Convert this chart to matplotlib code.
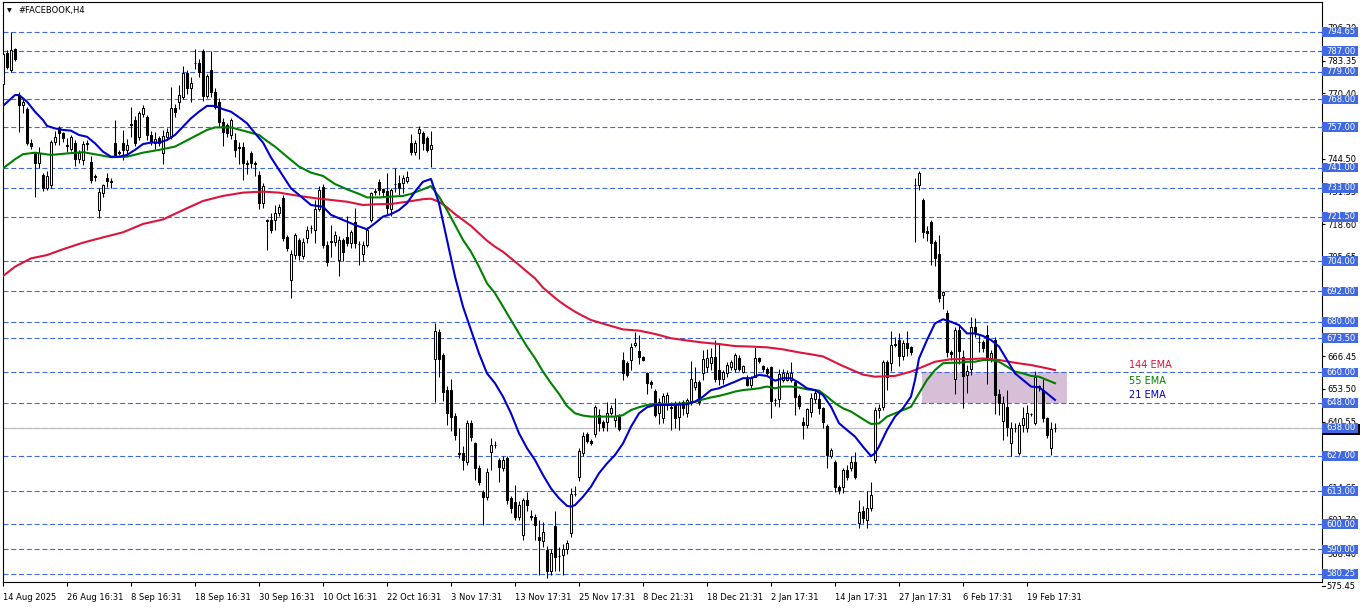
import numpy as np
import matplotlib
matplotlib.use('Agg')
import matplotlib.pyplot as plt
import matplotlib.transforms as mtransforms
from matplotlib.patches import Rectangle

# H4 candles (price units)
opens = [774.0, 786.2, 779.6, 787.8, 769.7, 765.8, 764.1, 750.6, 746.6, 742.7,
         738.1, 732.8, 734.1, 751.3, 756.5, 754.6, 749.8, 748.2, 750.6, 744.3,
         744.0, 750.2, 743.4, 737.5, 724.2, 731.1, 736.8, 735.7, 750.6, 747.2,
         750.6, 748.0, 758.4, 759.8, 753.2, 762.2, 761.2, 753.9, 750.9, 752.6,
         746.6, 753.2, 753.2, 764.5, 767.1, 769.1, 778.3, 772.4, 782.4, 782.3,
         787.3, 769.3, 779.6, 771.0, 767.1, 759.2, 757.9, 753.9, 751.9, 749.2,
         749.0, 743.0, 746.9, 742.8, 738.1, 727.1, 719.7, 720.3, 720.3, 722.9,
         729.1, 713.7, 696.5, 706.4, 712.4, 706.0, 713.0, 717.0, 716.3, 724.5,
         733.5, 710.4, 712.0, 711.7, 704.4, 712.4, 713.7, 711.0, 719.6, 710.9,
         707.0, 710.4, 720.3, 731.4, 735.4, 732.5, 731.7, 724.5, 734.4, 734.8,
         734.8, 735.7, 750.9, 747.0, 754.8, 754.8, 752.6, 748.2, 665.2, 676.1,
         666.9, 653.0, 653.0, 642.7, 628.0, 628.0, 624.7, 640.1, 631.9, 622.0,
         612.8, 610.8, 628.6, 631.2, 625.3, 622.0, 626.0, 610.2, 608.9, 602.9,
         595.7, 609.5, 603.0, 602.9, 595.0, 593.4, 589.8, 581.6, 599.2, 587.4,
         587.8, 590.0, 596.3, 611.9, 618.5, 628.2, 635.5, 633.0, 635.5, 643.1,
         640.4, 640.5, 644.1, 641.2, 642.8, 664.9, 663.6, 664.9, 670.8, 668.5,
         666.0, 659.6, 656.3, 652.8, 643.8, 641.8, 647.8, 646.2, 647.8, 642.2,
         648.4, 643.8, 648.8, 654.4, 656.3, 659.9, 662.3, 663.8, 666.2, 661.0,
         657.3, 659.6, 662.3, 661.2, 665.6, 660.3, 657.7, 655.0, 658.3, 665.6,
         662.5, 661.2, 662.0, 649.2, 649.4, 657.0, 657.0, 657.0, 656.3, 650.7,
         640.5, 639.2, 644.5, 649.3, 649.3, 645.8, 638.8, 626.9, 624.7, 614.8,
         614.8, 621.4, 622.0, 624.7, 600.3, 605.3, 601.6, 606.2, 625.3, 645.1,
         646.4, 664.2, 663.6, 671.1, 672.8, 666.5, 671.8, 669.9, 734.0, 734.1,
         728.0, 716.1, 719.6, 711.7, 706.8, 690.6, 683.4, 668.2, 657.3, 676.8,
         666.2, 659.0, 661.2, 678.1, 672.2, 672.2, 674.8, 665.5, 672.8, 651.4,
         640.9, 646.4, 632.2, 637.9, 628.0, 639.2, 637.9, 643.4, 639.9, 654.5,
         653.0, 641.8, 630.0, 637.9]
highs = [787.0, 787.5, 794.8, 788.5, 771.0, 768.6, 765.0, 752.5, 747.0, 749.0,
         739.0, 739.5, 752.0, 755.5, 757.6, 755.0, 752.8, 754.0, 752.0, 748.0,
         751.5, 752.0, 745.5, 738.5, 733.0, 734.5, 738.9, 737.0, 759.8, 748.0,
         756.0, 752.5, 765.0, 761.5, 763.5, 765.7, 762.0, 755.5, 755.0, 753.5,
         756.0, 756.5, 773.0, 766.0, 773.5, 781.0, 779.5, 777.0, 787.8, 784.0,
         788.0, 778.0, 787.0, 772.5, 768.5, 760.5, 758.5, 760.5, 754.6, 751.0,
         751.0, 744.0, 747.5, 743.7, 739.5, 735.0, 720.8, 722.9, 726.2, 726.5,
         730.0, 714.5, 708.5, 715.0, 713.0, 713.0, 717.7, 718.3, 728.0, 733.6,
         734.4, 712.0, 718.3, 716.0, 714.0, 713.0, 722.0, 716.5, 725.0, 712.0,
         712.0, 717.5, 731.5, 732.8, 736.5, 733.0, 739.0, 733.0, 741.0, 738.2,
         738.0, 739.5, 754.2, 752.0, 757.3, 755.5, 753.5, 755.5, 679.7, 677.0,
         667.5, 654.5, 657.5, 644.0, 637.8, 631.0, 641.0, 641.0, 632.5, 623.5,
         613.5, 622.0, 633.9, 633.0, 626.0, 627.0, 627.0, 611.0, 615.6, 609.0,
         610.5, 612.8, 605.5, 604.0, 601.6, 601.0, 591.5, 590.0, 605.0, 591.0,
         592.0, 593.6, 614.2, 615.0, 630.0, 636.3, 636.5, 633.5, 647.0, 645.5,
         641.0, 648.1, 647.2, 650.0, 643.5, 668.0, 664.5, 671.5, 676.0, 674.9,
         666.5, 660.0, 657.0, 653.5, 650.0, 652.0, 652.2, 648.4, 648.5, 648.5,
         649.0, 650.0, 664.4, 662.0, 657.0, 669.0, 669.2, 669.6, 673.0, 671.3,
         661.0, 664.0, 665.0, 667.5, 667.0, 663.0, 659.0, 658.5, 670.0, 666.0,
         663.0, 662.0, 662.5, 650.0, 661.5, 661.5, 661.0, 664.2, 657.0, 651.5,
         642.5, 646.0, 652.0, 653.0, 652.0, 646.5, 639.5, 630.0, 625.5, 615.5,
         622.0, 623.5, 627.0, 628.5, 609.5, 607.0, 613.2, 616.5, 646.5, 647.5,
         665.0, 664.8, 676.4, 674.1, 675.5, 673.0, 676.3, 670.5, 736.8, 739.5,
         729.0, 718.0, 720.3, 712.5, 714.2, 692.0, 684.6, 669.0, 678.0, 678.5,
         669.0, 663.0, 682.0, 681.7, 674.8, 673.0, 678.8, 669.0, 674.0, 653.5,
         650.8, 653.2, 640.5, 639.8, 640.5, 646.4, 647.0, 644.0, 660.5, 655.0,
         657.5, 642.5, 640.5, 639.8]
lows = [771.7, 780.0, 779.0, 783.0, 755.2, 762.5, 750.0, 748.5, 729.5, 741.0,
        731.7, 732.0, 733.0, 750.0, 750.0, 751.0, 747.0, 747.5, 741.5, 743.0,
        742.0, 748.0, 735.0, 735.5, 720.9, 729.5, 733.3, 733.0, 745.0, 746.0,
        744.0, 746.0, 753.0, 749.5, 752.0, 761.0, 752.0, 750.0, 748.5, 749.5,
        742.5, 752.0, 752.5, 761.0, 764.0, 768.0, 770.0, 767.0, 780.0, 777.0,
        767.5, 768.5, 769.0, 764.0, 757.0, 749.5, 753.0, 752.5, 745.0, 742.5,
        736.0, 738.5, 741.0, 737.5, 724.7, 725.0, 708.4, 715.0, 716.3, 722.0,
        712.0, 708.0, 689.3, 705.0, 704.5, 704.7, 711.0, 715.0, 711.0, 724.0,
        709.0, 702.0, 705.8, 710.0, 698.0, 704.0, 710.0, 709.0, 709.0, 702.5,
        704.0, 709.5, 719.5, 730.0, 730.0, 729.5, 722.8, 722.0, 731.5, 730.0,
        730.8, 735.0, 746.0, 746.0, 744.5, 748.0, 747.0, 741.3, 648.4, 658.0,
        648.5, 639.0, 637.0, 633.3, 626.0, 621.5, 623.5, 633.0, 617.5, 615.5,
        599.6, 609.5, 621.4, 630.0, 616.5, 621.0, 608.0, 604.5, 601.5, 601.5,
        593.6, 605.0, 601.5, 593.7, 579.8, 591.0, 578.8, 580.0, 581.6, 581.6,
        579.8, 588.0, 595.0, 611.0, 617.0, 627.0, 632.0, 631.3, 634.5, 636.8,
        637.0, 636.7, 643.0, 638.4, 637.0, 657.0, 658.0, 661.0, 670.0, 663.4,
        664.4, 651.5, 654.0, 642.5, 639.5, 640.0, 645.0, 637.2, 638.0, 637.2,
        643.0, 642.5, 647.0, 653.0, 647.0, 657.0, 660.0, 661.0, 656.0, 655.0,
        655.5, 658.0, 661.0, 660.0, 660.5, 659.8, 654.5, 654.0, 658.0, 663.8,
        660.0, 658.8, 641.8, 646.8, 646.2, 656.0, 656.5, 656.0, 643.3, 645.5,
        633.8, 638.0, 642.5, 648.0, 643.5, 638.0, 622.2, 626.0, 612.7, 612.0,
        612.3, 617.5, 621.0, 618.0, 598.3, 600.5, 598.3, 605.0, 624.0, 642.0,
        645.0, 653.2, 660.5, 670.0, 662.5, 665.0, 666.5, 667.0, 711.7, 732.3,
        713.0, 712.0, 702.3, 702.0, 688.0, 685.0, 666.0, 665.0, 651.5, 663.2,
        645.8, 652.0, 659.0, 674.0, 668.2, 668.0, 655.5, 664.0, 643.5, 643.0,
        633.1, 635.0, 627.0, 636.5, 627.3, 636.5, 636.5, 642.8, 639.0, 652.5,
        640.5, 634.0, 627.3, 636.5]
closes = [786.0, 780.9, 787.5, 783.8, 765.8, 767.1, 750.6, 749.6, 742.7, 746.6,
          732.8, 737.7, 751.3, 753.2, 754.6, 752.6, 749.5, 753.0, 744.3, 746.6,
          750.3, 750.6, 736.1, 737.1, 731.5, 734.1, 735.5, 735.4, 746.0, 746.8,
          748.0, 750.0, 758.0, 750.9, 762.5, 764.5, 753.9, 751.3, 752.2, 750.6,
          753.5, 755.2, 764.5, 763.1, 769.7, 778.3, 772.4, 774.6, 782.2, 779.0,
          769.3, 777.2, 771.0, 765.1, 759.2, 755.2, 754.6, 759.8, 748.0, 748.8,
          742.7, 742.6, 742.7, 742.5, 727.1, 733.7, 720.3, 716.3, 722.9, 725.6,
          713.0, 709.1, 707.0, 714.3, 706.4, 711.7, 716.3, 717.2, 724.5, 732.2,
          710.4, 703.8, 711.6, 714.3, 712.4, 707.8, 711.3, 715.7, 711.0, 710.7,
          710.4, 716.3, 730.8, 731.7, 732.2, 731.5, 724.9, 732.2, 734.6, 732.8,
          736.8, 737.2, 747.0, 750.6, 756.2, 750.6, 748.0, 750.0, 676.4, 665.2,
          652.4, 643.8, 642.5, 635.2, 627.7, 625.3, 639.9, 634.6, 622.0, 616.8,
          610.8, 620.7, 631.3, 631.4, 622.7, 625.3, 609.5, 606.2, 602.9, 607.5,
          609.5, 607.5, 602.8, 599.6, 593.7, 597.0, 581.6, 588.7, 587.1, 587.2,
          590.0, 592.6, 611.9, 612.0, 629.0, 634.8, 633.0, 631.9, 646.2, 640.1,
          638.3, 644.1, 645.8, 642.9, 637.7, 659.6, 659.0, 670.2, 671.7, 666.0,
          665.0, 655.7, 655.3, 643.2, 648.4, 650.7, 651.1, 646.0, 641.8, 647.8,
          645.8, 649.1, 657.3, 656.3, 648.4, 665.2, 665.6, 665.9, 657.3, 657.3,
          660.3, 662.9, 664.2, 666.9, 661.2, 662.5, 655.0, 657.7, 665.6, 664.6,
          661.2, 659.6, 648.8, 649.0, 659.4, 659.6, 659.9, 659.9, 650.4, 646.7,
          639.2, 645.4, 649.7, 651.7, 645.8, 640.5, 627.3, 629.3, 614.8, 613.5,
          621.4, 618.5, 624.7, 618.8, 604.9, 602.3, 606.2, 611.5, 645.1, 645.8,
          664.2, 658.3, 670.8, 671.0, 666.5, 671.8, 669.5, 668.2, 734.3, 739.0,
          715.7, 715.0, 711.0, 705.1, 689.3, 691.6, 668.2, 667.3, 676.8, 668.6,
          658.6, 660.7, 678.1, 675.7, 672.1, 669.5, 665.5, 667.5, 651.1, 648.0,
          648.0, 638.5, 637.9, 637.8, 639.2, 641.8, 643.8, 643.5, 658.3, 654.3,
          641.8, 635.2, 637.5, 637.9]

# moving averages, read at bar positions
ema21_bar = [0, 3, 4, 6, 8, 10, 11, 13, 15, 17, 19, 21, 23, 25, 27, 29, 31, 33, 35, 37,
             39, 41, 43, 45, 47, 49, 51, 53, 55, 57, 59, 61, 63, 65, 67, 69, 72, 74, 77, 80,
             82, 85, 88, 91, 93, 95, 97, 99, 101, 103, 105, 107, 109, 111, 113, 115, 117, 119, 121, 123,
             125, 127, 129, 131, 133, 135, 137, 139, 141, 142, 143, 145, 147, 149, 151, 153, 155, 157, 159, 161,
             163, 167, 171, 173, 175, 177, 179, 181, 183, 185, 187, 189, 191, 193, 195, 197, 199, 201, 203, 205,
             207, 209, 211, 213, 215, 217, 218, 219, 221, 223, 225, 227, 228, 229, 231, 233, 235, 237, 239, 241,
             243, 245, 247, 249, 251, 253, 255, 257, 259, 261, 263]
ema21_val = [765.4, 769.7, 769.7, 767.1, 763.1, 759.8, 757.5, 756.5, 755.9, 755.6, 753.9, 753.2, 750.6, 747.3, 745.3, 745.3, 746.0, 748.0, 750.3, 750.9,
             750.9, 751.9, 753.9, 757.2, 760.5, 763.1, 765.4, 765.4, 764.1, 763.1, 760.9, 758.5, 754.6, 750.9, 745.0, 740.1, 732.8, 730.2, 726.2, 725.5,
             722.3, 720.3, 718.3, 716.6, 719.0, 721.6, 722.6, 724.2, 726.9, 731.5, 735.4, 736.5, 726.9, 712.4, 697.9, 686.0, 676.8, 667.5, 659.6, 655.7,
             650.4, 643.8, 635.9, 630.0, 625.3, 619.4, 614.1, 610.2, 607.2, 606.9, 607.5, 610.8, 614.8, 620.1, 624.0, 627.3, 631.9, 638.5, 643.8, 646.2,
             647.1, 647.1, 647.4, 648.4, 650.4, 653.0, 653.7, 655.0, 656.3, 657.7, 657.7, 659.0, 658.6, 656.7, 657.7, 657.7, 655.9, 653.7, 653.0, 651.0,
             646.4, 639.9, 637.2, 634.6, 630.6, 626.9, 628.0, 630.6, 637.2, 642.5, 645.8, 650.4, 657.0, 665.5, 672.8, 679.4, 681.0, 680.0, 678.7, 675.4,
             675.4, 674.4, 672.8, 670.2, 664.9, 659.6, 657.0, 654.4, 654.1, 651.7, 649.1]
ema55_bar = [0, 3, 5, 8, 12, 16, 20, 24, 27, 31, 35, 39, 43, 47, 51, 53, 57, 61, 64, 66,
             68, 71, 74, 77, 80, 83, 86, 89, 91, 94, 97, 100, 102, 105, 107, 109, 111, 113, 115, 117,
             119, 121, 123, 125, 127, 129, 131, 133, 135, 137, 139, 141, 143, 145, 147, 153, 155, 157, 159, 161,
             163, 167, 171, 173, 175, 177, 179, 181, 183, 185, 187, 189, 191, 193, 195, 197, 199, 201, 204, 206,
             208, 210, 212, 214, 216, 217, 219, 221, 223, 225, 227, 229, 231, 233, 235, 237, 239, 241, 243, 245,
             247, 249, 251, 253, 255, 257, 259, 261, 263]
ema55_val = [740.7, 744.3, 746.3, 746.9, 746.0, 746.6, 747.1, 746.0, 745.1, 745.3, 746.9, 748.0, 749.3, 752.6, 755.9, 756.9, 756.9, 755.2, 753.9, 751.5,
             749.3, 745.3, 741.4, 739.0, 737.7, 734.5, 732.4, 730.6, 729.2, 729.2, 729.5, 729.8, 730.6, 732.4, 733.7, 729.5, 724.2, 718.3, 712.4, 707.7,
             701.8, 695.2, 691.3, 686.0, 680.7, 675.4, 670.2, 665.6, 660.3, 655.7, 651.5, 646.7, 643.8, 642.9, 642.5, 642.5, 643.1, 645.1, 646.2, 647.1,
             647.5, 647.5, 647.8, 648.4, 649.3, 650.1, 650.7, 651.5, 652.4, 653.0, 653.3, 653.7, 654.4, 653.7, 654.4, 654.4, 654.0, 653.3, 652.8, 650.4,
             647.8, 645.8, 644.5, 642.5, 640.5, 639.6, 639.8, 642.5, 643.8, 645.1, 646.4, 651.7, 657.0, 660.9, 663.6, 663.8, 663.8, 664.2, 664.2, 664.9,
             664.9, 664.2, 662.3, 660.3, 659.6, 658.6, 658.3, 657.0, 655.7]
ema144_bar = [0, 3, 7, 11, 15, 20, 25, 30, 35, 40, 45, 50, 55, 60, 65, 69, 74, 78, 82, 86,
              90, 93, 97, 101, 105, 107, 109, 111, 113, 115, 117, 119, 121, 123, 125, 127, 129, 131, 133, 135,
              137, 139, 141, 143, 145, 147, 151, 155, 159, 163, 167, 171, 175, 179, 183, 187, 191, 195, 199, 201,
              205, 210, 215, 218, 223, 227, 229, 233, 237, 241, 245, 249, 253, 257, 261, 263]
ema144_val = [698.1, 701.8, 705.1, 706.4, 708.7, 711.3, 713.4, 715.4, 718.7, 720.5, 724.2, 727.8, 729.8, 731.1, 731.5, 731.1, 729.8, 728.9, 728.2, 727.5,
              726.2, 726.5, 726.6, 727.5, 728.5, 728.7, 727.5, 725.3, 722.6, 720.3, 717.9, 715.0, 712.1, 709.7, 707.7, 705.1, 702.5, 699.8, 697.2, 693.5,
              690.8, 688.2, 686.0, 684.0, 682.3, 680.7, 678.8, 677.0, 676.5, 675.2, 673.5, 672.6, 671.8, 671.2, 670.4, 670.2, 669.9, 669.1, 667.9, 667.4,
              666.3, 662.5, 659.1, 658.3, 658.6, 660.3, 661.6, 664.2, 665.2, 665.2, 665.5, 664.9, 663.8, 662.9, 661.6, 660.9]

levels = [794.65, 787.00, 779.00, 768.00, 757.00, 741.00, 733.00, 721.50, 704.00, 692.00,
          680.00, 673.50, 660.00, 648.00, 638.00, 627.00, 613.00, 600.00, 590.00, 580.25]
yticks = [796.30, 783.35, 770.40, 757.45, 744.50, 731.55, 718.60, 705.65, 692.70, 679.40,
          666.45, 653.50, 640.55, 627.60, 614.65, 601.70, 588.40]
ytick_labels = ['796.30', '783.35', '770.40', '', '744.50', '731.55', '718.60', '705.65', '', '',
                '666.45', '653.50', '640.55', '', '614.65', '601.70', '588.40']
date_labels = ['14 Aug 2025', '26 Aug 16:31', '8 Sep 16:31', '18 Sep 16:31', '30 Sep 16:31',
               '10 Oct 16:31', '22 Oct 16:31', '3 Nov 17:31', '13 Nov 17:31', '25 Nov 17:31',
               '8 Dec 21:31', '18 Dec 21:31', '2 Jan 17:31', '14 Jan 17:31', '27 Jan 17:31',
               '6 Feb 17:31', '19 Feb 17:31']
last_price = 637.9
zone = (229.75, 266.0, 648.0, 660.0)

W, H = 1362, 611
fig = plt.figure(figsize=(W / 100, H / 100), dpi=100)
ax = fig.add_axes([2.7 / W, 1 - 581.7 / H, (1321.7 - 2.7) / W, (581.7 - 2) / H])
ax.set_xlim(-0.075, 329.675)
ax.set_ylim(577.2, 806.5)

o = np.array(opens); h = np.array(highs); l = np.array(lows); c = np.array(closes)
x = np.arange(len(o))
up = c >= o

# support / resistance levels
for v in levels:
    ax.axhline(v, color='#4169E1', lw=0.8, dashes=(4.5, 2.5), zorder=1)
ax.axhline(last_price, color='#C0C0C0', lw=0.8, zorder=1.2)

ax.add_patch(Rectangle((zone[0], zone[2]), zone[1] - zone[0], zone[3] - zone[2],
                       facecolor='#D8BFD8', edgecolor='none', zorder=0.8))

# candles
ax.vlines(x, l, h, color='black', lw=0.75, zorder=3)
lo = np.minimum(o, c)
hh = np.maximum(np.abs(c - o), 0.05)
ax.bar(x[up], hh[up], bottom=lo[up], width=0.55, facecolor='white', edgecolor='black', lw=0.75, zorder=4)
ax.bar(x[~up], hh[~up], bottom=lo[~up], width=0.55, facecolor='black', edgecolor='black', lw=0.75, zorder=4)

ax.plot(ema144_bar, ema144_val, color='#DC143C', lw=1.5, zorder=5)
ax.plot(ema55_bar, ema55_val, color='#008000', lw=1.5, zorder=5)
ax.plot(ema21_bar, ema21_val, color='#0000CD', lw=1.5, zorder=6)

ax.text(281.5, 662.9, '144 EMA', color='#DC143C', fontsize=7, va='center', zorder=7)
ax.text(281.5, 656.6, '55 EMA', color='#008000', fontsize=7, va='center', zorder=7)
ax.text(281.5, 651.1, '21 EMA', color='#0000CD', fontsize=7, va='center', zorder=7)

# axes / ticks
for s in ax.spines.values():
    s.set_linewidth(0.8)
ax.yaxis.tick_right()
ax.set_yticks(yticks)
ax.set_yticklabels(ytick_labels)
ax.tick_params(axis='y', direction='out', length=2.5, width=0.8, pad=1.5, labelsize=6)
ax.set_xticks(range(0, 257, 16))
ax.set_xticklabels(date_labels)
ax.tick_params(axis='x', direction='out', length=3, width=0.8, pad=5, labelsize=6)
for t in ax.get_xticklabels():
    t.set_horizontalalignment('left')

trans = mtransforms.blended_transform_factory(ax.transAxes, ax.transData)
axw = 1319.0
ax.plot([1.0, 1.0 + 3 / axw], [575.45, 575.45], color='black', lw=0.8, transform=trans, clip_on=False)
ax.text(1.0 + 4.5 / axw, 575.45, '575.45', fontsize=6, va='center', ha='left', transform=trans, clip_on=False)

# price labels on the scale
ax.add_patch(Rectangle((1.0, last_price - 2.6), 38 / axw, 4.4, transform=trans, facecolor='black',
                       edgecolor='none', clip_on=False, zorder=9))
for v in levels:
    ax.add_patch(Rectangle((1.0, v - 1.9), 36 / axw, 3.8, transform=trans, facecolor='#4169E1',
                           edgecolor='none', clip_on=False, zorder=10))
    ax.text(1.0 + 4.5 / axw, v, '%.2f' % v, color='white', fontsize=6, va='center', ha='left',
            transform=trans, clip_on=False, zorder=11)

fig.text(7 / W, 1 - 10.5 / H, '\u25BC', fontsize=4.5, va='center', ha='left')
fig.text(18 / W, 1 - 10.5 / H, '#FACEBOOK,H4', fontsize=6, va='center', ha='left')

fig.savefig('out.png', dpi=100)
